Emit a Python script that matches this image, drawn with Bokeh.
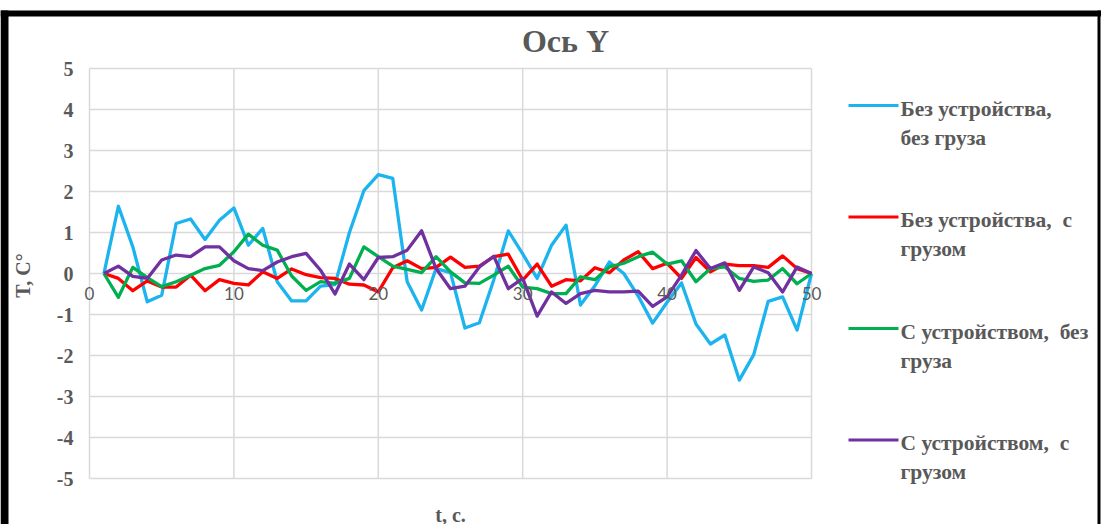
import math
from bokeh.plotting import figure
from bokeh.models import Range1d, Label, LabelSet, ColumnDataSource, BoxAnnotation
from bokeh.core.properties import value
from bokeh.embed import file_html
from bokeh.resources import INLINE

# ---------------- data ----------------
t = list(range(1, 51))

no_dev_no_load = [0, 1.64, 0.65, -0.69, -0.53, 1.22, 1.33, 0.83, 1.30, 1.60,
                  0.69, 1.10, -0.20, -0.67, -0.67, -0.31, -0.27, 1.00, 2.02, 2.41,
                  2.32, -0.20, -0.89, 0.12, 0.02, -1.33, -1.20, -0.15, 1.04, 0.48,
                  -0.12, 0.69, 1.18, -0.77, -0.30, 0.28, 0.00, -0.55, -1.21, -0.70,
                  -0.23, -1.23, -1.72, -1.50, -2.60, -1.98, -0.68, -0.57, -1.38, 0]

no_dev_load = [0, -0.12, -0.42, -0.18, -0.33, -0.33, -0.04, -0.42, -0.15, -0.24,
               -0.28, 0.04, -0.12, 0.11, -0.03, -0.10, -0.12, -0.26, -0.28, -0.45,
               0.14, 0.31, 0.12, 0.15, 0.40, 0.15, 0.18, 0.41, 0.47, -0.16,
               0.23, -0.31, -0.15, -0.18, 0.14, 0.02, 0.33, 0.53, 0.12, 0.25,
               -0.12, 0.39, 0.04, 0.23, 0.19, 0.19, 0.15, 0.43, 0.12, 0]

dev_no_load = [0, -0.58, 0.15, -0.10, -0.32, -0.20, -0.04, 0.12, 0.20, 0.53,
               0.96, 0.69, 0.57, -0.06, -0.41, -0.20, -0.24, -0.12, 0.65, 0.41,
               0.18, 0.10, 0.02, 0.41, 0.04, -0.23, -0.24, -0.04, 0.18, -0.33,
               -0.37, -0.49, -0.49, -0.08, -0.15, 0.16, 0.25, 0.41, 0.52, 0.23,
               0.31, -0.20, 0.12, 0.16, -0.12, -0.19, -0.16, 0.12, -0.25, 0]

dev_load = [0, 0.18, -0.07, -0.12, 0.33, 0.45, 0.41, 0.65, 0.65, 0.31,
            0.12, 0.07, 0.28, 0.41, 0.49, 0.08, -0.50, 0.23, -0.15, 0.39,
            0.41, 0.57, 1.04, 0.12, -0.37, -0.31, 0.16, 0.42, -0.37, -0.12,
            -1.04, -0.45, -0.73, -0.49, -0.41, -0.45, -0.45, -0.43, -0.80, -0.57,
            -0.04, 0.56, 0.12, 0.26, -0.41, 0.16, 0.02, -0.45, 0.16, 0]

series = [no_dev_no_load, no_dev_load, dev_no_load, dev_load]
# the double spaces of the original are kept with a no-break space
legend_lines = [("Без устройства,", "без груза"),
                ("Без устройства,\u00a0 с", "грузом"),
                ("С устройством,\u00a0 без", "груза"),
                ("С устройством,\u00a0 с", "грузом")]
colors = ["#1CB4EE", "#FF0000", "#00B050", "#7030A0"]

x_ticks = [0, 10, 20, 30, 40, 50]
x_tick_labels = ["0", "10", "20", "30", "40", "50"]
y_ticks = [-5, -4, -3, -2, -1, 0, 1, 2, 3, 4, 5]
y_tick_labels = ["-5", "-4", "-3", "-2", "-1", "0", "1", "2", "3", "4", "5"]

title_text = "Ось Y"
x_title = "t, c."
y_title = "T, C°"

# ---------------- layout (pixels of the page) ----------------
W, H = 1101, 524
PL, PR, PT, PB = 89, 811, 68, 478          # plot area in page pixels
X0, X1 = x_ticks[0], x_ticks[-1]
Y0, Y1 = y_ticks[0], y_ticks[-1]
SX = (PR - PL) / (X1 - X0)
SY = (PB - PT) / (Y1 - Y0)


def dx(px):
    return X0 + (px - PL) / SX


def dy(py):
    return Y1 - (py - PT) / SY


SERIF = "Liberation Serif"
TXT = "#595959"

p = figure(width=W, height=H, x_range=Range1d(dx(0), dx(W)), y_range=Range1d(dy(H), dy(0)),
           x_axis_location=None, y_axis_location=None,
           toolbar_location=None, output_backend="svg", min_border=0,
           background_fill_color="white", border_fill_color="white")
p.outline_line_color = None
p.title.visible = False
p.xgrid.visible = False
p.ygrid.visible = False

# grid lines of the plot area
p.segment(x0=x_ticks, y0=[Y0] * len(x_ticks), x1=x_ticks, y1=[Y1] * len(x_ticks),
          line_color="#D9D9D9", line_width=1.5)
p.segment(x0=[X0] * len(y_ticks), y0=y_ticks, x1=[X1] * len(y_ticks), y1=y_ticks,
          line_color="#D9D9D9", line_width=1.5)

# series
for s, c in zip(series, colors):
    p.line(t, s, line_color=c, line_width=3.3, line_join="round")

# x tick labels on the zero line
xsrc = ColumnDataSource(dict(x=x_ticks, y=[0] * len(x_ticks), text=x_tick_labels))
p.add_layout(LabelSet(x="x", y="y", text="text", source=xsrc, y_offset=-13,
                      text_align="center", text_baseline="top",
                      text_font=value("Lato"), text_font_size=value("17px"),
                      text_color=value("#595959")))

# y tick labels
ysrc = ColumnDataSource(dict(x=[X0] * len(y_ticks), y=y_ticks, text=y_tick_labels))
p.add_layout(LabelSet(x="x", y="y", text="text", source=ysrc, x_offset=-16,
                      text_align="right", text_baseline="middle",
                      text_font=value(SERIF), text_font_style=value("bold"),
                      text_font_size=value("20px"), text_color=value(TXT)))

# titles
p.add_layout(Label(x=dx(565), y=dy(40), text=title_text, text_align="center",
                   text_baseline="middle", text_font=SERIF, text_font_style="bold",
                   text_font_size="32px", text_color=TXT))
p.add_layout(Label(x=dx(450), y=dy(514), text=x_title, text_align="center",
                   text_baseline="middle", text_font=SERIF, text_font_style="bold",
                   text_font_size="20px", text_color=TXT))
p.add_layout(Label(x=dx(22), y=dy(275), text=y_title, text_align="center",
                   text_baseline="middle", angle=math.pi / 2,
                   text_font=SERIF, text_font_style="bold",
                   text_font_size="20px", text_color=TXT))

# legend
for i, (lines, c) in enumerate(zip(legend_lines, colors)):
    ly = 105 + i * 111.5
    p.segment(x0=[dx(848)], y0=[dy(ly)], x1=[dx(898)], y1=[dy(ly)],
              line_color=c, line_width=3)
    for j, txt in enumerate(lines):
        p.add_layout(Label(x=dx(900), y=dy(ly + 3 + 29 * j), text=txt, text_align="left",
                           text_baseline="middle", text_font=SERIF, text_font_style="bold",
                           text_font_size="21.5px", text_color=TXT))

# black frame of the picture
for (l, r, tp, bt) in [(0, W, 10, 16), (0, 8, 10, H), (W - 4, W - 1, 10, H)]:
    p.add_layout(BoxAnnotation(left=dx(l), right=dx(r), top=dy(tp), bottom=dy(bt),
                               fill_color="black", fill_alpha=1, line_color=None))

open("out.html", "w").write(file_html(p, INLINE))
